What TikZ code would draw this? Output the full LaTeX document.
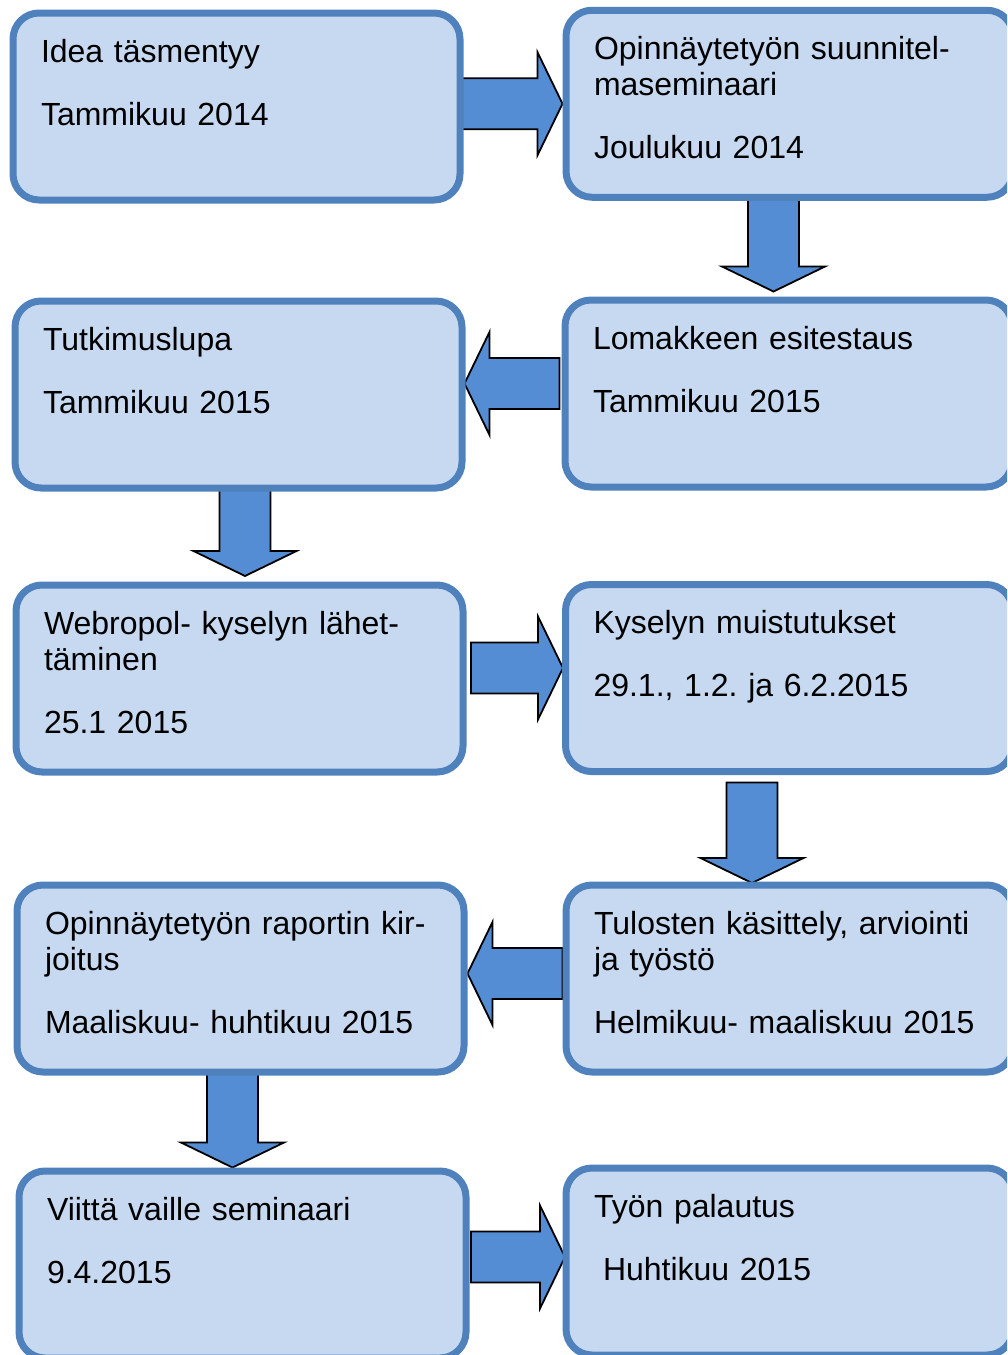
\documentclass[tikz,border=0pt]{standalone}
\usepackage{fontspec}
\setmainfont{Liberation Sans}
\usetikzlibrary{calc,backgrounds}
\frenchspacing

\definecolor{boxfill}{RGB}{198,217,240}
\definecolor{boxline}{RGB}{79,129,189}
\definecolor{arrowfill}{RGB}{84,141,212}

% broad arrow from #1 (tail) to #2 (tip)
\newcommand{\blockarrow}[2]{%
  \path (#1) coordinate (tail) (#2) coordinate (tip);
  \coordinate (neck) at ($(tip)!25pt!(tail)$);
  \draw[flowarrow] ($(tail)!25.5pt!90:(tip)$) -- ($(neck)!25.5pt!-90:(tail)$)
    -- ($(neck)!51.5pt!-90:(tail)$) -- (tip) -- ($(neck)!51.5pt!90:(tail)$)
    -- ($(neck)!25.5pt!90:(tail)$) -- ($(tail)!25.5pt!-90:(tip)$) -- cycle;
}

\begin{document}
\begin{tikzpicture}[x=1pt, y=1pt,
  phase/.style={rectangle, rounded corners=26pt, draw=boxline, fill=boxfill, line width=7pt,
    minimum width=447pt, minimum height=187pt, text width=391pt, inner xsep=28pt, inner ysep=26pt,
    text height=23pt, text depth=112pt, align=left, font=\fontsize{32}{36}\selectfont},
  flowarrow/.style={draw=black, fill=arrowfill, line width=1.8pt, line join=miter}]
  \useasboundingbox (0,0) rectangle (1007,-1355);
  \clip (0,0) rectangle (1007,-1355);

  \node[phase] (idea)  at (236.5,-106.5)  {Idea täsmentyy\\[27pt]Tammikuu 2014};
  \node[phase] (plan)  at (789.5,-103.75) {Opinnäytetyön suunnitel-\\maseminaari\\[27pt]Joulukuu 2014};
  \node[phase] (tutk)  at (238.5,-394.5)  {Tutkimuslupa\\[27pt]Tammikuu 2015};
  \node[phase] (lomak) at (788.5,-393.5)  {Lomakkeen esitestaus\\[27pt]Tammikuu 2015};
  \node[phase] (webr)  at (239.5,-678.5)  {Webropol- kyselyn lähet-\\täminen\\[27pt]25.1 2015};
  \node[phase] (kysel) at (789,-678)      {Kyselyn muistutukset\\[27pt]29.1., 1.2. ja 6.2.2015};
  \node[phase] (rapo)  at (240.5,-978.5)  {Opinnäytetyön raportin kir-\\joitus\\[27pt]Maaliskuu- huhtikuu 2015};
  \node[phase] (tulos) at (789.5,-978.5)  {Tulosten käsittely, arviointi\\ja työstö\\[27pt]Helmikuu- maaliskuu 2015};
  \node[phase] (viit)  at (242.5,-1264.5) {Viittä vaille seminaari\\[27pt]9.4.2015};
  \node[phase] (pala)  at (789.5,-1261.5) {Työn palautus\\[27pt]\hspace*{9pt}Huhtikuu 2015};

  \begin{scope}[on background layer]
    \blockarrow{$(idea.east |- plan.west)+(-4,0)$}{plan.west}
    \blockarrow{$(plan.south)+(-16,4)$}{$(lomak.north)+(-15,5)$}
    \blockarrow{$(lomak.west)+(-2,10)$}{$(tutk.east)+(-1,11)$}
    \blockarrow{$(tutk.south)+(6.5,4)$}{$(webr.north)+(5.5,5.5)$}
    \blockarrow{$(webr.east)+(4.5,10.5)$}{$(kysel.west)+(1,10)$}
    \blockarrow{$(kysel.south)+(-37,-7.5)$}{$(tulos.north)+(-37.5,-1.5)$}
    \blockarrow{$(tulos.west)+(0,5)$}{$(rapo.east)+(0,5)$}
    \blockarrow{$(rapo.south)+(-8,4)$}{$(viit.north)+(-10,0)$}
    \blockarrow{$(viit.east)+(1.5,7.5)$}{$(pala.west)+(2.5,4.5)$}
  \end{scope}
\end{tikzpicture}
\end{document}
